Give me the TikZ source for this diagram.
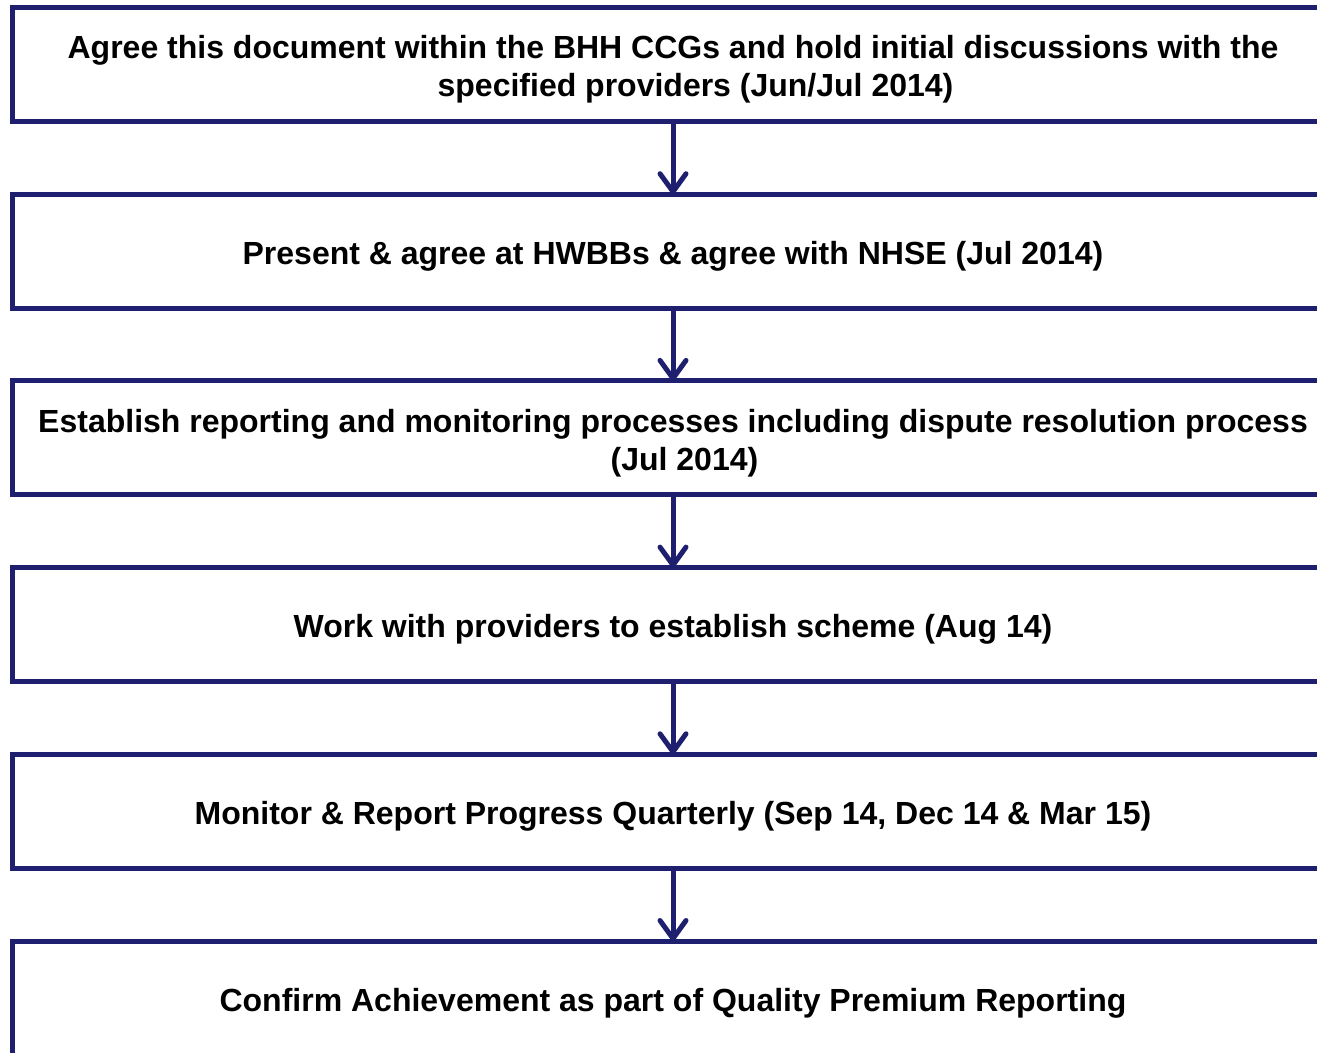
\documentclass[tikz,border=0pt]{standalone}
\usepackage{fontspec}
\setmainfont{Liberation Sans}
\usetikzlibrary{arrows.meta}
\definecolor{navy}{HTML}{1F1F70}
\newcommand{\boxtext}[1]{\raisebox{-5.5pt}[\height][\depth]{\begin{tabular}{@{}c@{}}#1\end{tabular}}}
\begin{document}
\begin{tikzpicture}[x=1pt,y=-1pt,
  stepbox/.style={draw=navy, line width=5pt, rectangle, outer sep=0pt, inner sep=0pt,
    minimum width=1321pt, minimum height=114pt,
    font=\bfseries\fontsize{32}{38}\selectfont, text=black},
  flow/.style={draw=navy, line width=5pt,
    -{Straight Barb[length=18pt, width=26pt, line cap=round, line join=round]}}]
\useasboundingbox (0,0) rectangle (1317,1052);
\clip (0,0) rectangle (1317,1052);
\node[stepbox] (s1) at (673,64.5) {\boxtext{Agree this document within the BHH CCGs and hold initial discussions with the\\\hspace*{45pt}specified providers (Jun/Jul 2014)}};
\node[stepbox] (s2) at (673,251.2) {\boxtext{Present \& agree at HWBBs \& agree with NHSE (Jul 2014)}};
\node[stepbox] (s3) at (673,437.9) {\boxtext{Establish reporting and monitoring processes including dispute resolution process\\\hspace*{23pt}(Jul 2014)}};
\node[stepbox] (s4) at (673,624.6) {\boxtext{Work with providers to establish scheme (Aug 14)}};
\node[stepbox] (s5) at (673,811.3) {\boxtext{Monitor \& Report Progress Quarterly (Sep 14, Dec 14 \& Mar 15)}};
\node[stepbox] (s6) at (673,998) {\boxtext{Confirm Achievement as part of Quality Premium Reporting}};
\draw[flow] (s1.south) -- (s2.north);
\draw[flow] (s2.south) -- (s3.north);
\draw[flow] (s3.south) -- (s4.north);
\draw[flow] (s4.south) -- (s5.north);
\draw[flow] (s5.south) -- (s6.north);
\end{tikzpicture}
\end{document}
